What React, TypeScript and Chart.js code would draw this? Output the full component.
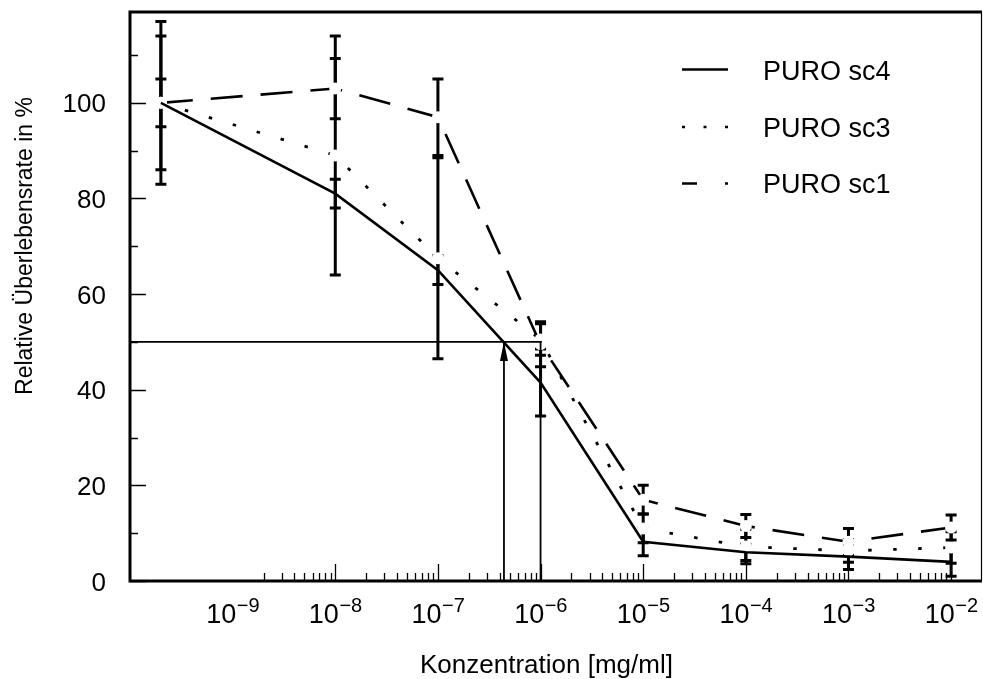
import React, { useEffect, useRef } from "react";
import { Chart, registerables } from "chart.js";

Chart.register(...registerables);

// ---- data ----
const concentrations = [2e-10, 1e-8, 1e-7, 1e-6, 1e-5, 1e-4, 1e-3, 1e-2];
const sc4Values = [100, 81, 65, 41.5, 8.2, 6, 5.1, 4];
const sc4Errors = [5, 3, 3, 7, 2.9, 1.7, 2.7, 3];
const sc3Values = [100, 89, 67.5, 50.5, 11, 7.2, 6.3, 7];
const sc3Errors = [14, 25, 21, 3.3, 3, 3.6, 2.4, 3.3];
const sc1Values = [100, 103, 97, 49.5, 17, 11.5, 8.2, 11.2];
const sc1Errors = [17, 6.3, 8, 4.7, 3, 2.4, 2.8, 2.6];
const seriesLabels = ["PURO sc4", "PURO sc3", "PURO sc1"];

const yTickValues = [0, 20, 40, 60, 80, 100];
const yMinorTickValues = [10, 30, 50, 70, 90, 110];
const xLabelExponents = [-9, -8, -7, -6, -5, -4, -3, -2];
const xMajorTickExponents = [-8, -7, -6, -5, -4, -3, -2];
const xMinorDecades = [-9, -8, -7, -6, -5, -4, -3];
const xMinorMultipliers = [2, 3, 4, 5, 6, 7, 8, 9];

const halfLevel = 50;
const ic50Concentration = 4.4e-7;
const referenceConcentration = 1e-6;

const xTitle = "Konzentration [mg/ml]";
const yTitle = "Relative Überlebensrate in %";

const X_MIN = 1e-10;
const X_MAX = 0.02;
const Y_MIN = 0;
const Y_MAX = 119;

const FONT = '"Liberation Sans", Arial, Helvetica, sans-serif';

const toPoints = (vals: number[]) => concentrations.map((c, i) => ({ x: c, y: vals[i] }));

const errorSets: [number[], number[]][] = [
  [sc1Values, sc1Errors],
  [sc3Values, sc3Errors],
  [sc4Values, sc4Errors],
];

const legendStyles = [
  { dash: [] as number[] },
  { dash: [3, 18.5] },
  { dash: [15, 28, 3, 100] },
];

const customPlugin = {
  id: "customAxes",
  beforeDatasetsDraw(chart: any) {
    const { ctx, scales } = chart;
    const x = scales.x;
    const y = scales.y;
    ctx.save();
    ctx.strokeStyle = "#000";
    ctx.lineWidth = 3;
    errorSets.forEach(([vals, errs]) => {
      concentrations.forEach((c, i) => {
        const px = x.getPixelForValue(c);
        const top = y.getPixelForValue(vals[i] + errs[i]);
        const bot = y.getPixelForValue(vals[i] - errs[i]);
        ctx.beginPath();
        ctx.moveTo(px, top);
        ctx.lineTo(px, bot);
        ctx.moveTo(px - 5.5, top);
        ctx.lineTo(px + 5.5, top);
        ctx.moveTo(px - 5.5, bot);
        ctx.lineTo(px + 5.5, bot);
        ctx.stroke();
      });
    });
    ctx.restore();
  },
  afterDraw(chart: any) {
    const { ctx, scales, chartArea } = chart;
    const x = scales.x;
    const y = scales.y;
    const { left, right, top, bottom } = chartArea;
    ctx.save();
    ctx.strokeStyle = "#000";
    ctx.fillStyle = "#000";

    // arrowhead at IC50
    const ax = x.getPixelForValue(ic50Concentration);
    const ay = y.getPixelForValue(halfLevel);
    ctx.beginPath();
    ctx.moveTo(ax, ay);
    ctx.lineTo(ax - 4, ay + 19);
    ctx.lineTo(ax + 4, ay + 19);
    ctx.closePath();
    ctx.fill();

    // frame
    ctx.lineWidth = 3;
    ctx.beginPath();
    ctx.moveTo(left, top);
    ctx.lineTo(left, bottom);
    ctx.lineTo(right, bottom);
    ctx.moveTo(left - 1.5, top);
    ctx.lineTo(right, top);
    ctx.stroke();
    ctx.lineWidth = 1.2;
    ctx.beginPath();
    ctx.moveTo(right - 0.5, top);
    ctx.lineTo(right - 0.5, bottom);
    ctx.stroke();

    // y ticks (inward)
    ctx.lineWidth = 1.3;
    ctx.beginPath();
    yTickValues.forEach((v) => {
      const py = Math.round(y.getPixelForValue(v)) + 0.5;
      ctx.moveTo(left, py);
      ctx.lineTo(left + 16, py);
    });
    yMinorTickValues.forEach((v) => {
      const py = Math.round(y.getPixelForValue(v)) + 0.5;
      ctx.moveTo(left, py);
      ctx.lineTo(left + 8, py);
    });
    // x ticks (inward)
    xMajorTickExponents.forEach((e) => {
      const px = Math.round(x.getPixelForValue(Math.pow(10, e))) + 0.5;
      ctx.moveTo(px, bottom);
      ctx.lineTo(px, bottom - 17);
    });
    xMinorDecades.forEach((d) => {
      xMinorMultipliers.forEach((m) => {
        const px = Math.round(x.getPixelForValue(m * Math.pow(10, d))) + 0.5;
        ctx.moveTo(px, bottom);
        ctx.lineTo(px, bottom - 8);
      });
    });
    ctx.stroke();

    // y labels
    ctx.font = `26px ${FONT}`;
    ctx.textAlign = "right";
    ctx.textBaseline = "alphabetic";
    yTickValues.forEach((v) => {
      const py = y.getPixelForValue(v);
      ctx.fillText(String(v), 106, py + 9.5);
    });

    // x labels with superscript exponents
    xLabelExponents.forEach((e) => {
      const px = x.getPixelForValue(Math.pow(10, e));
      const base = "10";
      const exp = "\u2212" + Math.abs(e);
      ctx.font = `27px ${FONT}`;
      const w1 = ctx.measureText(base).width;
      ctx.font = `20px ${FONT}`;
      const w2 = ctx.measureText(exp).width;
      const start = px - (w1 + w2) / 2;
      ctx.textAlign = "left";
      ctx.font = `27px ${FONT}`;
      ctx.fillText(base, start, 623);
      ctx.font = `20px ${FONT}`;
      ctx.fillText(exp, start + w1 + 0.5, 612);
    });

    // axis titles
    ctx.font = `26px ${FONT}`;
    ctx.textAlign = "left";
    ctx.fillText(xTitle, 420, 673);

    ctx.save();
    ctx.translate(32, 246);
    ctx.rotate(-Math.PI / 2);
    ctx.font = `23px ${FONT}`;
    ctx.textAlign = "center";
    ctx.fillText(yTitle, 0, 0);
    ctx.restore();

    // legend
    const legendY = [69.5, 127, 183.5];
    const textBase = [79.5, 136.5, 193];
    seriesLabels.forEach((lab, i) => {
      ctx.lineWidth = 2.6;
      ctx.setLineDash(legendStyles[i].dash);
      ctx.beginPath();
      ctx.moveTo(682, legendY[i]);
      ctx.lineTo(728, legendY[i]);
      ctx.stroke();
      ctx.setLineDash([]);
      ctx.font = `27px ${FONT}`;
      ctx.textAlign = "left";
      ctx.fillText(lab, 763, textBase[i]);
    });

    ctx.restore();
  },
};

export default function App() {
  const ref = useRef<HTMLCanvasElement | null>(null);

  useEffect(() => {
    if (!ref.current) return;
    const guide = {
      borderColor: "#000",
      borderWidth: 1.8,
      pointRadius: 0,
      fill: false,
    };
    const chart = new Chart(ref.current, {
      type: "line",
      data: {
        datasets: [
          {
            ...guide,
            label: "guide-half",
            data: [
              { x: X_MIN, y: halfLevel },
              { x: referenceConcentration * 1.03, y: halfLevel },
            ],
          },
          {
            ...guide,
            label: "guide-ic50",
            data: [
              { x: ic50Concentration, y: Y_MIN },
              { x: ic50Concentration, y: halfLevel },
            ],
          },
          {
            ...guide,
            label: "guide-ref",
            data: [
              { x: referenceConcentration, y: Y_MIN },
              { x: referenceConcentration, y: halfLevel },
            ],
          },
          {
            label: seriesLabels[0],
            data: toPoints(sc4Values),
            borderColor: "#000",
            borderWidth: 2.6,
            pointRadius: 0,
            fill: false,
          },
          {
            label: seriesLabels[1],
            data: toPoints(sc3Values),
            borderColor: "#000",
            borderWidth: 2.8,
            borderDash: [3.5, 21.5],
            pointRadius: 6,
            pointBackgroundColor: "#fff",
            pointBorderWidth: 0,
            pointBorderColor: "#fff",
            fill: false,
          },
          {
            label: seriesLabels[2],
            data: toPoints(sc1Values),
            borderColor: "#000",
            borderWidth: 2.6,
            borderDash: [32, 18],
            pointRadius: 6,
            pointBackgroundColor: "#fff",
            pointBorderWidth: 0,
            pointBorderColor: "#fff",
            fill: false,
          },
        ],
      },
      options: {
        responsive: false,
        animation: false,
        events: [],
        layout: {
          autoPadding: false,
          padding: { left: 130, right: 1, top: 12, bottom: 98 },
        },
        plugins: { legend: { display: false }, tooltip: { enabled: false } },
        scales: {
          x: { type: "logarithmic", min: X_MIN, max: X_MAX, display: false },
          y: { type: "linear", min: Y_MIN, max: Y_MAX, display: false },
        },
      },
      plugins: [customPlugin],
    });
    return () => chart.destroy();
  }, []);

  return (
    <div
      style={{
        position: "fixed",
        left: 0,
        top: 0,
        width: 983,
        height: 679,
        background: "#fff",
      }}
    >
      <canvas ref={ref} width={983} height={679} style={{ display: "block" }} />
    </div>
  );
}
